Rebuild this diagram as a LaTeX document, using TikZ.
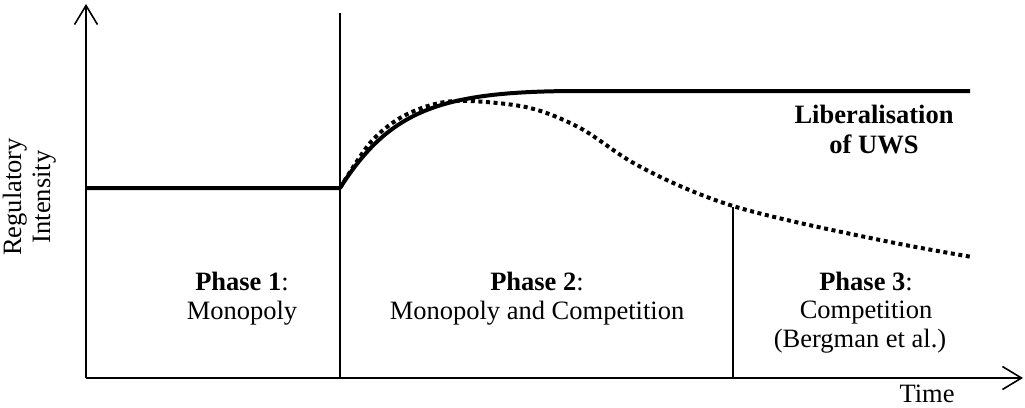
\documentclass[tikz,border=0pt]{standalone}
\usepackage{fontspec}
\setmainfont{Liberation Serif}
\usetikzlibrary{arrows.meta}
\begin{document}
\begin{tikzpicture}[x=1pt,y=-1pt,
  axis/.style={line width=1.8pt,-{Straight Barb[length=19pt,width=23pt,line width=1.6pt]}},
  divider/.style={line width=1.4pt},
  thickcurve/.style={line width=4pt,line join=round},
  dotcurve/.style={line width=4pt,dash pattern=on 4pt off 3.6pt},
  lbl/.style={anchor=base,inner sep=0pt,font=\fontsize{26.5}{30}\selectfont},
]
\useasboundingbox (0,0) rectangle (1025,407);
% coordinates
\coordinate (O) at (86,378);
\coordinate (ytip) at (86,4);
\coordinate (xtip) at (1023,378);
\coordinate (d1top) at (340,13);
\coordinate (d1bot) at (340,378);
\coordinate (d2top) at (733,207);
\coordinate (d2bot) at (733,378);
\coordinate (L0) at (86,188);
\coordinate (S) at (340,188);
\coordinate (P) at (580,91);
\coordinate (E) at (970,91);
% axes
\draw[axis] (O) -- (ytip);
\draw[axis] (O) -- (xtip);
% dividers
\draw[divider] (d1bot) -- (d1top);
\draw[divider] (d2bot) -- (d2top);
% dotted curve
\draw[dotcurve] plot[smooth,tension=0.55] coordinates {(340,188) (370,143) (400,118) (435,104) (470,101) (530,108) (580,128) (630,161) (680,186) (733,206) (800,223) (900,244) (972,257)};
% solid curve
\draw[thickcurve] (L0) -- (S) .. controls (390,110) and (440,91) .. (P) -- (E);
% labels
\node[lbl,rotate=90] (reg) at (21,197) {Regulatory};
\node[lbl,rotate=90] (int) at (50,197) {Intensity};
\node[lbl] (p1a) at (242,290) {\textbf{Phase 1}:};
\node[lbl] (p1b) at (242,319) {Monopoly};
\node[lbl] (p2a) at (537,290) {\textbf{Phase 2}:};
\node[lbl] (p2b) at (537,319) {Monopoly and Competition};
\node[lbl] (p3a) at (866,290) {\textbf{Phase 3}:};
\node[lbl] (p3b) at (866,318) {Competition};
\node[lbl] (p3c) at (860,347) {(Bergman et al.)};
\node[lbl] (lib1) at (874,123) {\textbf{Liberalisation}};
\node[lbl] (lib2) at (874,153) {\textbf{of UWS}};
\node[lbl] (time) at (927,402) {Time};
\end{tikzpicture}
\end{document}
